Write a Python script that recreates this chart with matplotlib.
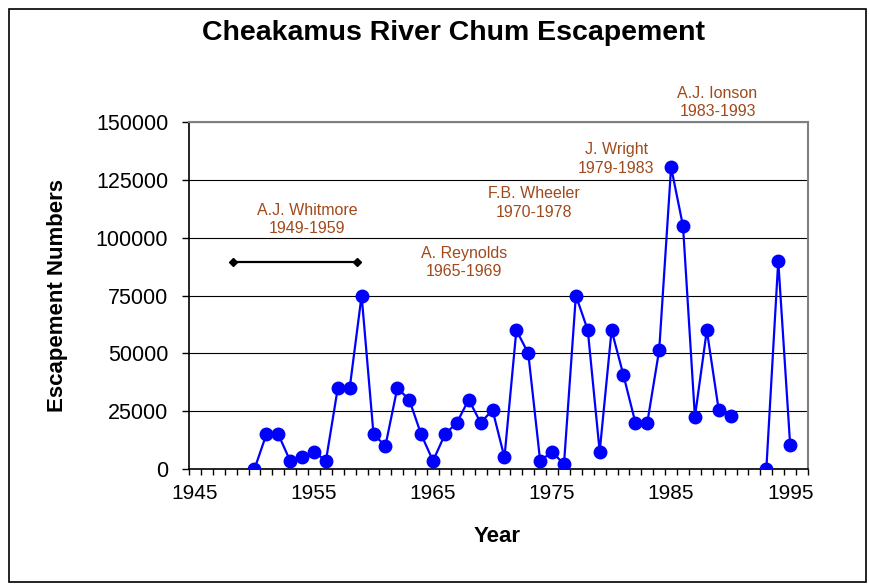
import numpy as np
import matplotlib
matplotlib.use('Agg')
import matplotlib.pyplot as plt
from matplotlib.patches import Rectangle

plt.rcParams['font.family'] = ['Liberation Sans', 'DejaVu Sans']

# chum escapement counts by year (1991-1992 missing)
years = list(range(1950, 1991)) + [1991, 1992, 1993, 1994, 1995]
escapement = [0, 15000, 15000, 3500, 5000, 7500, 3500, 35000, 35000, 75000,
              15000, 10000, 35000, 30000, 15000, 3500, 15000, 20000, 30000, 20000,
              25500, 5000, 60000, 50000, 3500, 7500, 2000, 75000, 60000, 7500,
              60000, 40500, 20000, 20000, 51500, 130500, 105000, 22500, 60000, 25500,
              23000, np.nan, np.nan, 0, 90000, 10500]

# managers and their terms, with label anchor (x, y)
managers = ['A.J. Whitmore\n1949-1959', 'A. Reynolds\n1965-1969',
            'F.B. Wheeler\n1970-1978', 'J. Wright\n1979-1983', 'A.J. Ionson\n1983-1993']
label_x = [1954.4, 1967.6, 1973.5, 1980.4, 1988.9]
label_y = [107900, 89200, 115000, 134000, 158500]

# bar marking the Whitmore period
whitmore_x = [1948.2, 1958.6]
whitmore_y = [89500, 89500]

fig = plt.figure(figsize=(8.69, 5.84), dpi=100)
ax = fig.add_axes([189/869, 1-469/584, 619/869, 347/584])

ax.plot(years, escapement, color='#0000FF', lw=1.6, marker='o', ms=9,
        mec='#0000FF', mfc='#0000FF', zorder=3)
ax.plot(whitmore_x, whitmore_y, color='black', lw=1.6, marker='D', ms=4.5, zorder=3)

for txt, x, y in zip(managers, label_x, label_y):
    ax.text(x, y, txt, ha='center', va='center', fontsize=11.5, color='#A04A1C',
            linespacing=1.3, clip_on=False)

ax.set_xlim(1944.5, 1996.5)
ax.set_ylim(0, 150000)
ax.set_xticks(np.arange(1945, 1996, 10))
ax.set_xticks(np.arange(1944.5, 1997, 1), minor=True)
ax.set_yticks(np.arange(0, 150001, 25000))
ax.tick_params(axis='x', which='major', length=0, pad=11, labelsize=15)
ax.tick_params(axis='x', which='minor', length=4.5, width=1, direction='out')
ax.tick_params(axis='y', which='major', length=5, width=1, direction='out', pad=10, labelsize=15.5)

ax.yaxis.grid(True, color='black', lw=0.8)
ax.set_axisbelow(True)
ax.spines['left'].set_color('black')
ax.spines['bottom'].set_color('black')
ax.spines['left'].set_linewidth(1.2)
ax.spines['bottom'].set_linewidth(1.2)
ax.spines['top'].set_color('#808080')
ax.spines['right'].set_color('#808080')
ax.spines['top'].set_linewidth(1.5)
ax.spines['right'].set_linewidth(1.5)

fig.text(453/869, 1-33/584, 'Cheakamus River Chum Escapement', ha='center', va='center',
         fontsize=20.5, fontweight='bold')
fig.text(497/869, 1-536/584, 'Year', ha='center', va='center', fontsize=16, fontweight='bold')
fig.text(58/869, 1-295/584, 'Escapement Numbers', ha='center', va='center', rotation=90,
         fontsize=16, fontweight='bold')

# outer chart frame
fig.add_artist(Rectangle((9/869, 2/584), 857/869, 573/584, transform=fig.transFigure,
                         fill=False, edgecolor='black', lw=1.2))

fig.savefig('out.png', dpi=100)
